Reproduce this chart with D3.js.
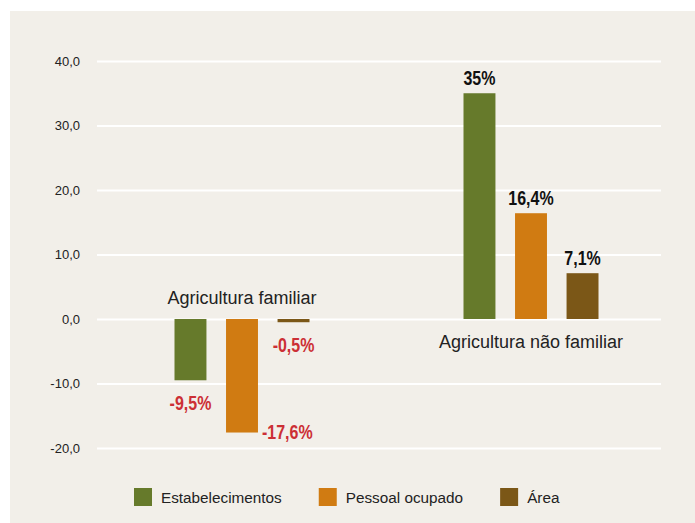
<!DOCTYPE html>
<html>
<head>
<meta charset="utf-8">
<script src="https://cdn.jsdelivr.net/npm/d3@7"></script>
<style>
  body { margin: 0; background: #fff; }
  svg { display: block; }
  .reg { font-family: "Liberation Sans", Arial, sans-serif; }
</style>
</head>
<body>
<div id="chart"></div>
<script>
var categories = ['Agricultura familiar', 'Agricultura não familiar'],
    seriesNames = ['Estabelecimentos', 'Pessoal ocupado', 'Área'],
    estabelecimentos = [-9.5, 35],
    pessoalOcupado = [-17.6, 16.4],
    area = [-0.5, 7.1],
    yTicks = [-20, -10, 0, 10, 20, 30, 40],
    colors = ['#667a2b', '#d07b12', '#7b5717'];

var width = 695, height = 523;

var values = [estabelecimentos, pessoalOcupado, area];
var rows = [];
categories.forEach(function(c, ci){
  seriesNames.forEach(function(s, si){
    rows.push({cat: c, serie: s, value: values[si][ci], color: colors[si]});
  });
});

var svg = d3.select('#chart').append('svg')
  .attr('width', width)
  .attr('height', height);

svg.append('rect')
  .attr('x', 10).attr('y', 11)
  .attr('width', width - 10).attr('height', height - 11)
  .attr('fill', '#f2efe9');

var y = d3.scaleLinear().domain([-20, 40]).range([448, 61]);
var x0 = d3.scalePoint().domain(categories).range([242, 531]);
var x1 = d3.scaleBand().domain(seriesNames).range([-67.5, 67.5]).paddingInner(0.38);

// grid + tick labels
var yAxis = d3.axisLeft(y)
  .tickValues(yTicks)
  .tickSize(-(661 - 97))
  .tickPadding(17)
  .tickFormat(function(d){ return d.toFixed(1).replace('.', ','); });

var axisG = svg.append('g')
  .attr('transform', 'translate(97,0)')
  .call(yAxis);
axisG.select('.domain').remove();
axisG.selectAll('.tick line').attr('stroke', '#fff').attr('stroke-width', 2);
axisG.selectAll('.tick text')
  .attr('class', 'reg')
  .attr('font-size', 13)
  .attr('fill', '#222');

// bars
svg.selectAll('rect.bar')
  .data(rows)
  .enter()
  .append('rect')
  .attr('class', 'bar')
  .attr('x', function(d){ return x0(d.cat) + x1(d.serie); })
  .attr('width', x1.bandwidth())
  .attr('y', function(d){ return y(Math.max(0, d.value)); })
  .attr('height', function(d){ return Math.abs(y(d.value) - y(0)); })
  .attr('fill', function(d){ return d.color; });

// value labels (condensed look via horizontal scale)
function fmt(v){
  return (Math.round(v * 10) / 10).toString().replace('.', ',') + '%';
}
svg.selectAll('text.val')
  .data(rows)
  .enter()
  .append('text')
  .attr('class', 'val reg')
  .attr('font-size', 19.5)
  .attr('font-weight', 'bold')
  .attr('fill', function(d){ return d.value < 0 ? '#cc2f35' : '#111'; })
  .each(function(d){
    var t = d3.select(this),
        cx = x0(d.cat) + x1(d.serie) + x1.bandwidth() / 2,
        px, py, anchor = 'middle';
    if (d.value >= 0) {
      px = cx; py = y(d.value) - 8;
    } else if (y(d.value) + 30 > y.range()[0]) {
      px = x0(d.cat) + x1(d.serie) + x1.bandwidth() + 4;
      py = y(d.value) + 6;
      anchor = 'start';
    } else {
      px = cx; py = y(d.value) + 30;
    }
    t.attr('text-anchor', anchor)
     .attr('transform', 'translate(' + px + ',' + py + ') scale(0.82,1)');
  })
  .text(function(d){ return fmt(d.value); });

// category labels
svg.selectAll('text.cat')
  .data(categories)
  .enter()
  .append('text')
  .attr('class', 'cat reg')
  .attr('font-size', 18)
  .attr('fill', '#222')
  .attr('text-anchor', 'middle')
  .attr('x', function(d){ return x0(d); })
  .attr('y', function(d, i){
    var neg = d3.sum(values, function(v){ return v[i]; }) < 0;
    return neg ? y(0) - 15 : y(0) + 29;
  })
  .text(function(d){ return d; });

// legend
var legend = svg.append('g').attr('transform', 'translate(134,488)');
var lx = 0;
seriesNames.forEach(function(s, i){
  var g = legend.append('g').attr('transform', 'translate(' + lx + ',0)');
  g.append('rect').attr('width', 18).attr('height', 18).attr('fill', colors[i]);
  var t = g.append('text')
    .attr('class', 'reg')
    .attr('x', 27).attr('y', 15)
    .attr('font-size', 15.3)
    .attr('fill', '#222')
    .text(s);
  lx += 27 + t.node().getComputedTextLength() + 37;
});
</script>
</body>
</html>
